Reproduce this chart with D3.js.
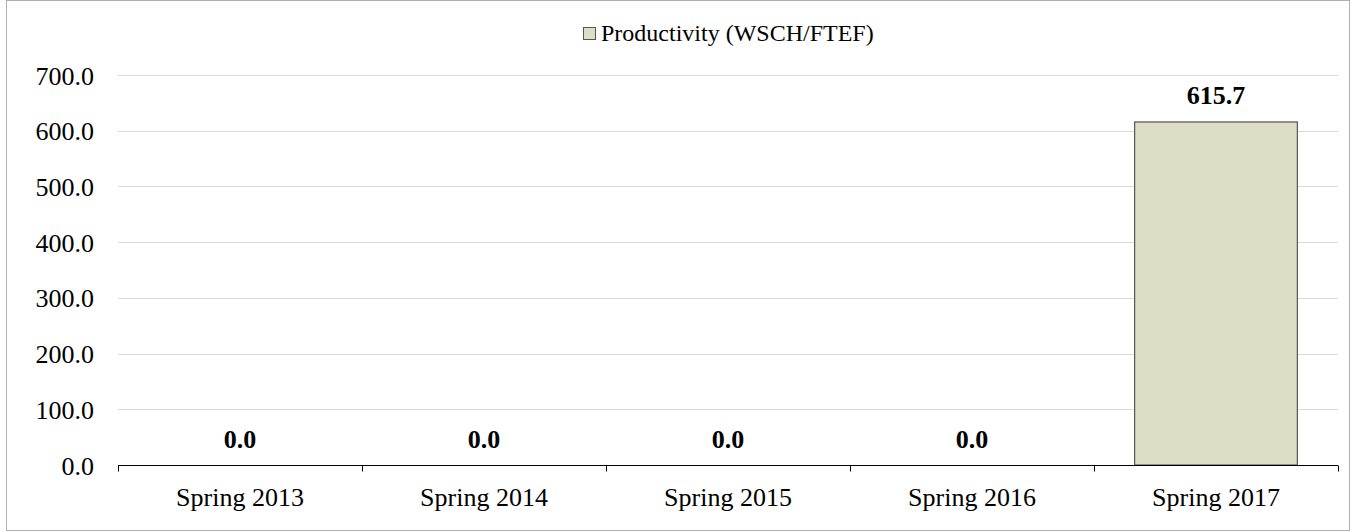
<!DOCTYPE html>
<html>
<head>
<meta charset="utf-8">
<script src="https://cdnjs.cloudflare.com/ajax/libs/d3/7.8.5/d3.min.js"></script>
<style>
  body { margin: 0; background: #fff; }
  svg text { font-family: "Liberation Serif", "Times New Roman", serif; }
</style>
</head>
<body>
<div id="chart"></div>
<script>
var width = 1356;
var height = 532;

var categories = ['Spring 2013', 'Spring 2014', 'Spring 2015', 'Spring 2016', 'Spring 2017'];
var values = [0.0, 0.0, 0.0, 0.0, 615.7];
var yTicks = [0, 100, 200, 300, 400, 500, 600, 700];
var seriesName = 'Productivity (WSCH/FTEF)';

var plotLeft = 118;
var plotRight = 1338;
var plotTop = 75;
var plotBottom = 465;

var svg = d3.select('#chart')
  .append('svg')
  .attr('width', width)
  .attr('height', height);

// outer border
svg.append('rect')
  .attr('x', 6.5).attr('y', 0.5)
  .attr('width', 1343).attr('height', 530)
  .attr('fill', '#fff')
  .attr('stroke', '#b0b0b0')
  .attr('stroke-width', 1);

var x = d3.scaleBand()
  .domain(categories)
  .range([plotLeft, plotRight])
  .paddingInner(0.333)
  .paddingOuter(0.1665);

var xOuter = d3.scaleBand()
  .domain(categories)
  .range([plotLeft, plotRight]);

var y = d3.scaleLinear()
  .domain([0, 700])
  .range([plotBottom, plotTop]);

// gridlines
svg.append('g')
  .selectAll('line')
  .data(yTicks.slice(1))
  .enter()
  .append('line')
  .attr('x1', plotLeft)
  .attr('x2', plotRight)
  .attr('y1', function(d) { return Math.round(y(d)) + 0.5; })
  .attr('y2', function(d) { return Math.round(y(d)) + 0.5; })
  .attr('stroke', '#d9d9d9')
  .attr('stroke-width', 1);

// y labels
svg.append('g')
  .selectAll('text')
  .data(yTicks)
  .enter()
  .append('text')
  .attr('x', 94)
  .attr('y', function(d) { return y(d) + 9.5; })
  .attr('text-anchor', 'end')
  .style('font-size', '26px')
  .style('fill', '#000')
  .text(function(d) { return d3.format('.1f')(d); });

// bars
svg.append('g')
  .selectAll('rect')
  .data(values)
  .enter()
  .append('rect')
  .attr('x', function(d, i) { return x(categories[i]); })
  .attr('width', x.bandwidth())
  .attr('y', function(d) { return y(d); })
  .attr('height', function(d) { return y(0) - y(d); })
  .attr('fill', '#deddc5')
  .attr('stroke', '#555555')
  .attr('stroke-width', 1.2)
  .style('display', function(d) { return d > 0 ? null : 'none'; });

// x axis
var xAxis = svg.append('g')
  .attr('transform', 'translate(0,' + (plotBottom + 0.5) + ')');

xAxis.append('line')
  .attr('x1', plotLeft).attr('x2', plotRight)
  .attr('stroke', '#000').attr('stroke-width', 1);

var tickPos = categories.map(function(c) { return xOuter(c); }).concat([plotRight]);
xAxis.selectAll('.tick')
  .data(tickPos)
  .enter()
  .append('line')
  .attr('x1', function(d) { return Math.round(d) + 0.5; })
  .attr('x2', function(d) { return Math.round(d) + 0.5; })
  .attr('y1', 0).attr('y2', 6)
  .attr('stroke', '#000');

xAxis.selectAll('.lbl')
  .data(categories)
  .enter()
  .append('text')
  .attr('x', function(d) { return xOuter(d) + xOuter.bandwidth() / 2; })
  .attr('y', 40.5)
  .attr('text-anchor', 'middle')
  .style('font-size', '26px')
  .style('fill', '#000')
  .text(function(d) { return d; });

// value labels
svg.append('g')
  .selectAll('text')
  .data(values)
  .enter()
  .append('text')
  .attr('x', function(d, i) { return xOuter(categories[i]) + xOuter.bandwidth() / 2; })
  .attr('y', function(d) { return y(d) - 17.5; })
  .attr('text-anchor', 'middle')
  .style('font-size', '26px')
  .style('font-weight', '700')
  .style('fill', '#000')
  .text(function(d) { return d3.format('.1f')(d); });

// legend
var legend = svg.append('g');
legend.append('rect')
  .attr('x', 583.5).attr('y', 27.5)
  .attr('width', 12).attr('height', 12)
  .attr('fill', '#deddc5')
  .attr('stroke', '#555555');
legend.append('text')
  .attr('x', 601)
  .attr('y', 41)
  .style('font-size', '24px')
  .style('fill', '#000')
  .text(seriesName);
</script>
</body>
</html>
